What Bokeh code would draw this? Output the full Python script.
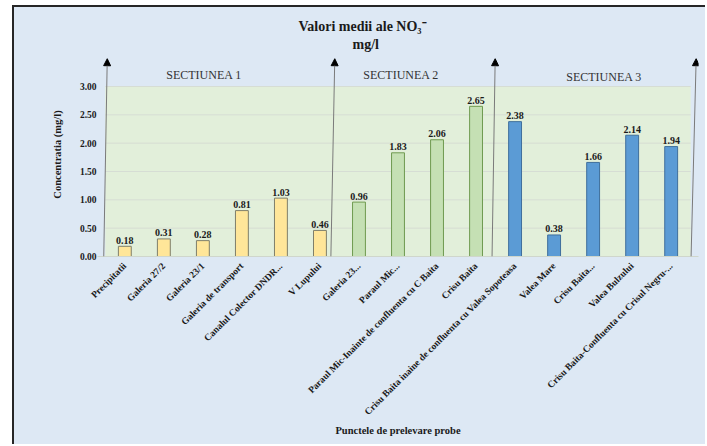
import math
from bokeh.plotting import figure
from bokeh.models import (ColumnDataSource, FactorRange, Range1d, FixedTicker,
                          PrintfTickFormatter, Label, Arrow, NormalHead, Title)
from bokeh.core.properties import value
from bokeh.embed import file_html
from bokeh.resources import INLINE

# Sampling points and mean NO3- concentration (mg/l)
points = [
    "Precipitatii", "Galeria 27/2", "Galeria 23/1", "Galeria de transport",
    "Canalul Colector DNDR...", "V Lupului", "Galeria 23...", "Paraul Mic...",
    "Paraul Mic-Inainte de confluenta cu C Baita", "Crisu Baita",
    "Crisu Baita inaine de confluenta cu Valea Sopoteasa", "Valea Mare",
    "Crisu Baita...", "Valea Bulzului", "Crisu Baita-Confluenta cu Crisul Negru-...",
]
nitrate = [0.18, 0.31, 0.28, 0.81, 1.03, 0.46, 0.96, 1.83, 2.06, 2.65,
           2.38, 0.38, 1.66, 2.14, 1.94]

sections = ["SECTIUNEA 1", "SECTIUNEA 2", "SECTIUNEA 3"]
section_sizes = [6, 4, 5]
y_ticks = [0.0, 0.5, 1.0, 1.5, 2.0, 2.5, 3.0]

# styling
FONT = "Liberation Serif"
PAGE_BG = "#dde8f4"
BAND_BG = "#e2efda"
GRID = "#d6ddd4"
TEXT = "#1a1a1a"
FRAME_LINE = "#262626"
section_fill = ["#ffe699", "#c5e0b4", "#5b9bd5"]
section_line = ["#7f7f6a", "#6f9a50", "#3f6f9c"]

fills, lines = [], []
for k, n in enumerate(section_sizes):
    fills += [section_fill[k]] * n
    lines += [section_line[k]] * n

src = ColumnDataSource(dict(
    pt=points, val=nitrate, fill=fills, line=lines,
    lbl=[f"{v:.2f}" for v in nitrate],
))

y_top = 3.6
p = figure(
    width=693, height=439,
    x_range=FactorRange(*points, range_padding=0.2, range_padding_units="absolute"),
    y_range=Range1d(0, y_top),
    output_backend="svg", toolbar_location=None,
    min_border_left=83, min_border_right=9, min_border_top=45, min_border_bottom=190,
)
p.background_fill_color = PAGE_BG
p.border_fill_color = PAGE_BG
p.outline_line_color = None
p.xgrid.visible = False
p.ygrid.visible = False
# white page margin with a dark chart border on the left and top
p.styles = {
    "margin-left": "12px",
    "margin-top": "5px",
    "border-left": f"2px solid {FRAME_LINE}",
    "border-top": f"2px solid {FRAME_LINE}",
    "background-color": PAGE_BG,
    "scrollbar-width": "none",
}
p.stylesheets = [":host, * { scrollbar-width: none; } ::-webkit-scrollbar { display: none; }"]

# chart title: main line, then units line just above the plot
p.title.text = "Valori  medii ale NO\u2083\u207b"
p.title.align = "left"
p.title.offset = 201
p.title.text_font = FONT
p.title.text_font_style = "bold"
p.title.text_font_size = "14px"
p.title.text_color = TEXT
p.title.standoff = 0
p.add_layout(Title(text="mg/l", align="left", offset=255, text_font=FONT,
                   text_font_style="bold", text_font_size="14px",
                   text_color=TEXT, standoff=2), "above")

# shaded plot band and its gridlines
n_pts = len(points)
p.quad(left=[0], right=[n_pts], bottom=[0], top=[max(y_ticks)],
       fill_color=BAND_BG, line_color=None, level="image")
p.segment(x0=[0] * (len(y_ticks) - 1), x1=[n_pts] * (len(y_ticks) - 1),
          y0=y_ticks[1:], y1=y_ticks[1:], line_color=GRID, line_width=1,
          level="image")

# bars and value labels
p.vbar(x="pt", top="val", width=0.33, fill_color="fill", line_color="line",
       line_width=1, source=src)
p.text(x="pt", y="val", text="lbl", source=src,
       text_font=value(FONT), text_font_style="bold", text_font_size="10px",
       text_color=TEXT, text_align="center", text_baseline="alphabetic",
       y_offset=-6)

# axes
p.yaxis.ticker = FixedTicker(ticks=y_ticks)
p.yaxis.formatter = PrintfTickFormatter(format="%.2f")
p.yaxis.axis_line_color = None
p.yaxis.major_tick_line_color = None
p.yaxis.minor_tick_line_color = None
p.yaxis.major_tick_out = 0
p.yaxis.major_tick_in = 0
p.yaxis.major_label_standoff = 1
p.yaxis.major_label_text_font = FONT
p.yaxis.major_label_text_font_style = "bold"
p.yaxis.major_label_text_font_size = "9.5px"
p.yaxis.major_label_text_color = TEXT
p.yaxis.axis_label = "Concentratia (mg/l)"
p.yaxis.axis_label_standoff = 14
p.yaxis.axis_label_text_font = FONT
p.yaxis.axis_label_text_font_style = "bold"
p.yaxis.axis_label_text_font_size = "10.5px"
p.yaxis.axis_label_text_color = TEXT

p.xaxis.axis_line_color = "#cfd6cc"
p.xaxis.major_tick_line_color = None
p.xaxis.minor_tick_line_color = None
p.xaxis.major_tick_out = 0
p.xaxis.major_tick_in = 0
p.xaxis.major_label_orientation = math.pi / 4
p.xaxis.major_label_standoff = 8
p.xaxis.major_label_text_font = FONT
p.xaxis.major_label_text_font_style = "bold"
p.xaxis.major_label_text_font_size = "9.5px"
p.xaxis.major_label_text_color = TEXT
p.xaxis.axis_label = "Punctele de prelevare probe"
p.xaxis.axis_label_standoff = 2
p.xaxis.axis_label_text_font = FONT
p.xaxis.axis_label_text_font_style = "bold"
p.xaxis.axis_label_text_font_size = "10.5px"
p.xaxis.axis_label_text_color = TEXT

# section divider arrows
arrow_bottom = [-0.04, 5.78, 9.91, 15.01]
arrow_top = [0.05, 5.88, 9.99, 15.14]
for xb, xt in zip(arrow_bottom, arrow_top):
    p.add_layout(Arrow(x_start=xb, y_start=0, x_end=xt, y_end=3.49,
                       line_color="#7a7a7a", line_width=1,
                       end=NormalHead(size=7, fill_color="black",
                                      line_color="black", line_width=1)))

section_x = [2.53, 7.58, 12.78]
section_y = [3.21, 3.21, 3.16]
for name, sx, sy in zip(sections, section_x, section_y):
    p.add_layout(Label(x=sx, y=sy, text=name, text_align="center",
                       text_baseline="middle", text_font=FONT,
                       text_font_size="12px", text_color="#333333"))

page_css = ("<style>html, body { margin: 0; overflow: hidden; } "
            "* { scrollbar-width: none !important; } "
            "::-webkit-scrollbar { display: none !important; }</style>")
html = file_html(p, INLINE)
html = html.replace("<head>", "<head>" + page_css, 1)
with open("out.html", "w") as f:
    f.write(html)
